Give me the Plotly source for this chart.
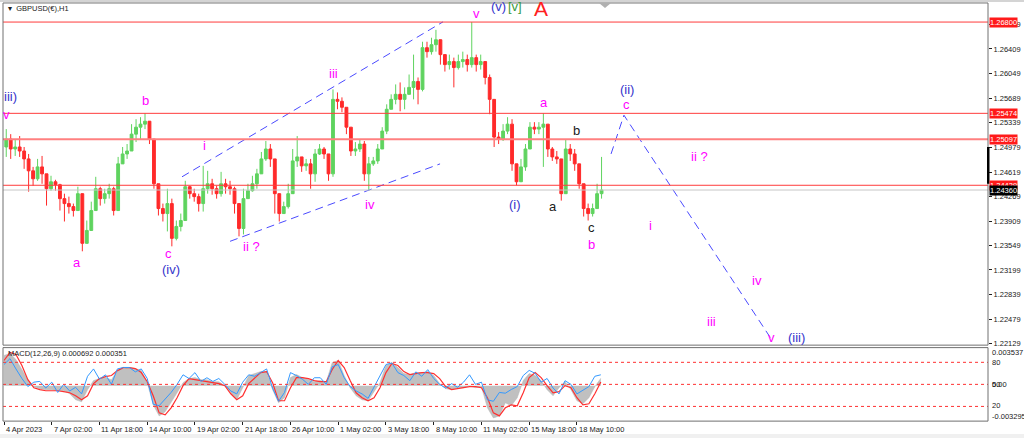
import plotly.graph_objects as go

W, H = 1024, 441


def fx(px):
    return px / W


def fy(py):
    return 1 - py / H


# ---- price data (H1 bars grouped by 6) ----
first_open = 1.24985
closes = [
    1.25100, 1.24956, 1.24985, 1.24927, 1.24812, 1.24639, 1.24523, 1.24696, 1.24595, 1.24379,
    1.24480, 1.24437, 1.24235, 1.24163, 1.24119, 1.24062, 1.24307, 1.23586, 1.23773, 1.24062,
    1.24379, 1.24235, 1.24307, 1.24379, 1.24062, 1.24740, 1.24884, 1.24927, 1.25172, 1.25273,
    1.25317, 1.25360, 1.25100, 1.24451, 1.24091, 1.24018, 1.24163, 1.23658, 1.23831, 1.23917,
    1.24408, 1.24307, 1.24264, 1.24163, 1.24379, 1.24451, 1.24379, 1.24307, 1.24451, 1.24408,
    1.24379, 1.24163, 1.23802, 1.24235, 1.24350, 1.24451, 1.24595, 1.24812, 1.24956, 1.24812,
    1.24307, 1.24018, 1.24119, 1.24307, 1.24783, 1.24841, 1.24711, 1.24740, 1.24595, 1.24884,
    1.24956, 1.24884, 1.24595, 1.25677, 1.25649, 1.25562, 1.25273, 1.24927, 1.24956, 1.25028,
    1.24595, 1.24740, 1.24783, 1.24956, 1.25216, 1.25533, 1.25677, 1.25750, 1.25677, 1.25750,
    1.25851, 1.25937, 1.25822, 1.26428, 1.26370, 1.26471, 1.26543, 1.26327, 1.26182, 1.26226,
    1.26139, 1.26226, 1.26255, 1.26182, 1.26283, 1.26182, 1.26226, 1.25995, 1.25677, 1.25129,
    1.25100, 1.25216, 1.25317, 1.24740, 1.24480, 1.24696, 1.24956, 1.25273, 1.25245, 1.25273,
    1.25317, 1.24956, 1.24841, 1.24812, 1.24307, 1.24956, 1.24884, 1.24740, 1.24451, 1.24091,
    1.24018, 1.24091, 1.24307, 1.24360]
highs = [
    1.25245, 1.25172, 1.25100, 1.25144, 1.24985, 1.24884, 1.24696, 1.24812, 1.24855, 1.24595,
    1.24567, 1.24509, 1.24451, 1.24307, 1.24264, 1.24163, 1.24408, 1.24235, 1.23917, 1.24191,
    1.24552, 1.24408, 1.24379, 1.24451, 1.24408, 1.24841, 1.24985, 1.25028, 1.25317, 1.25389,
    1.25418, 1.25474, 1.25273, 1.25100, 1.24451, 1.24163, 1.24379, 1.24235, 1.23917, 1.24018,
    1.24494, 1.24422, 1.24379, 1.24307, 1.24711, 1.24639, 1.24523, 1.24422, 1.24624, 1.24523,
    1.24494, 1.24408, 1.24163, 1.24379, 1.24451, 1.24567, 1.24668, 1.24913, 1.25072, 1.25028,
    1.24812, 1.24235, 1.24191, 1.24451, 1.24956, 1.25144, 1.24841, 1.24812, 1.24812, 1.24956,
    1.25028, 1.24985, 1.24884, 1.25822, 1.25778, 1.25706, 1.25562, 1.25273, 1.25057, 1.25100,
    1.25072, 1.24841, 1.24841, 1.25028, 1.25273, 1.25605, 1.25750, 1.25894, 1.25923, 1.25851,
    1.26038, 1.26327, 1.25995, 1.26514, 1.26514, 1.26572, 1.26687, 1.26471, 1.26327, 1.26327,
    1.26283, 1.26327, 1.26370, 1.26327, 1.26800, 1.26327, 1.26327, 1.26226, 1.26038, 1.25677,
    1.25201, 1.25317, 1.25418, 1.25389, 1.24668, 1.24812, 1.25028, 1.25346, 1.25346, 1.25346,
    1.25474, 1.25317, 1.24985, 1.24927, 1.24812, 1.25097, 1.25028, 1.24956, 1.24740, 1.24451,
    1.24163, 1.24163, 1.24451, 1.24841]
lows = [
    1.24841, 1.24812, 1.24855, 1.24841, 1.24668, 1.24336, 1.24422, 1.24494, 1.24451, 1.24134,
    1.24350, 1.24350, 1.24062, 1.23903, 1.24018, 1.23975, 1.24119, 1.23470, 1.23658, 1.23831,
    1.24163, 1.24134, 1.24163, 1.24235, 1.23990, 1.24062, 1.24783, 1.24812, 1.24956, 1.25057,
    1.25100, 1.25245, 1.25028, 1.24379, 1.23990, 1.23903, 1.23759, 1.23542, 1.23629, 1.23759,
    1.23917, 1.24235, 1.24191, 1.24047, 1.24047, 1.24307, 1.24292, 1.24235, 1.24264, 1.24307,
    1.24292, 1.24018, 1.23687, 1.23715, 1.24235, 1.24336, 1.24379, 1.24639, 1.24783, 1.24696,
    1.24018, 1.23903, 1.24047, 1.24091, 1.24595, 1.24696, 1.24624, 1.24639, 1.24379, 1.24480,
    1.24870, 1.24812, 1.24494, 1.24552, 1.25533, 1.25490, 1.25172, 1.24855, 1.24855, 1.24913,
    1.24494, 1.24350, 1.24711, 1.24740, 1.24956, 1.25172, 1.25533, 1.25605, 1.25504, 1.25533,
    1.25750, 1.25677, 1.25605, 1.25793, 1.26283, 1.26327, 1.26370, 1.26182, 1.26081, 1.26110,
    1.25851, 1.26110, 1.26139, 1.26081, 1.26139, 1.26081, 1.26110, 1.25894, 1.25461, 1.24985,
    1.25028, 1.25072, 1.25172, 1.24639, 1.24429, 1.24494, 1.24639, 1.24956, 1.25172, 1.25172,
    1.24696, 1.24841, 1.24783, 1.24740, 1.24206, 1.24307, 1.24783, 1.24639, 1.24379, 1.23975,
    1.23917, 1.23975, 1.24091, 1.24235]
opens = [first_open] + closes[:-1]
bar_x = [6 * k + 3 for k in range(len(closes))]

# ---- MACD window (sampled every 8 H1 bars) ----
macd_main = [
    0.00281, 0.00300, 0.00243, 0.00150, 0.00056, -0.00009, -0.00028, -0.00037, -0.00037, -0.00047,
    -0.00047, -0.00075, -0.00131, -0.00150, -0.00037, 0.00047, 0.00066, 0.00075, 0.00056, 0.00140,
    0.00159, 0.00168, 0.00159, 0.00140, 0.00028, -0.00178, -0.00281, -0.00243, -0.00159, -0.00066,
    0.00028, 0.00066, 0.00075, 0.00056, 0.00056, 0.00037, 0.00037, 0.00000, -0.00066, -0.00131,
    -0.00019, 0.00094, 0.00112, 0.00131, 0.00131, -0.00037, -0.00159, -0.00112, 0.00075, 0.00103,
    0.00075, 0.00056, 0.00037, 0.00047, 0.00037, 0.00215, 0.00234, 0.00094, -0.00019, -0.00094,
    -0.00131, -0.00140, -0.00056, 0.00028, 0.00187, 0.00215, 0.00168, 0.00112, 0.00103, 0.00122,
    0.00122, 0.00131, 0.00094, 0.00019, -0.00028, -0.00037, -0.00019, -0.00019, 0.00000, -0.00019,
    -0.00009, -0.00206, -0.00300, -0.00281, -0.00159, -0.00187, -0.00112, 0.00047, 0.00112, 0.00094,
    0.00047, -0.00037, -0.00094, -0.00019, 0.00037, -0.00037, -0.00140, -0.00168, -0.00112, -0.00009,
    0.00069]
macd_signal = [
    0.00234, 0.00309, 0.00290, 0.00187, 0.00056, -0.00019, -0.00037, -0.00047, -0.00047, -0.00047,
    -0.00056, -0.00066, -0.00094, -0.00131, -0.00094, 0.00019, 0.00066, 0.00084, 0.00094, 0.00140,
    0.00168, 0.00168, 0.00159, 0.00122, 0.00037, -0.00094, -0.00253, -0.00271, -0.00206, -0.00112,
    0.00000, 0.00066, 0.00056, 0.00047, 0.00037, 0.00028, 0.00019, 0.00000, -0.00075, -0.00131,
    -0.00094, 0.00019, 0.00075, 0.00122, 0.00131, 0.00028, -0.00140, -0.00140, -0.00019, 0.00075,
    0.00075, 0.00066, 0.00047, 0.00037, 0.00037, 0.00150, 0.00234, 0.00168, 0.00047, -0.00066,
    -0.00112, -0.00140, -0.00112, -0.00019, 0.00122, 0.00206, 0.00187, 0.00131, 0.00103, 0.00112,
    0.00122, 0.00122, 0.00112, 0.00066, -0.00009, -0.00037, -0.00028, -0.00019, -0.00009, -0.00009,
    -0.00019, -0.00112, -0.00253, -0.00281, -0.00206, -0.00178, -0.00187, -0.00066, 0.00075, 0.00122,
    0.00075, 0.00000, -0.00066, -0.00056, 0.00000, -0.00019, -0.00112, -0.00178, -0.00168, -0.00075,
    0.00035]
osc_line = [
    77, 85, 71, 58, 47, 53, 54, 45, 53, 39,
    50, 41, 46, 37, 61, 71, 57, 63, 50, 71,
    73, 73, 67, 71, 58, 23, 21, 30, 39, 50,
    63, 58, 66, 54, 59, 54, 58, 50, 41, 37,
    53, 63, 61, 66, 71, 45, 27, 39, 66, 62,
    57, 50, 59, 59, 50, 74, 77, 59, 47, 41,
    37, 31, 47, 61, 77, 79, 66, 62, 55, 67,
    61, 70, 58, 50, 45, 51, 46, 53, 63, 50,
    53, 29, 27, 39, 38, 43, 47, 62, 69, 65,
    53, 58, 45, 37, 55, 50, 37, 42, 47, 61,
    63]
macd_x = [8 * j for j in range(len(macd_main))]
osc_levels = [80, 50, 20]

# ---- axes ----
price_ticks = [1.26759, 1.26409, 1.26049, 1.25689, 1.25339, 1.24979, 1.24619,
               1.24269, 1.23909, 1.23549, 1.23199, 1.22839, 1.22479, 1.22129]
date_ticks = [64 * n for n in range(13)]
date_labels = ["4 Apr 2023", "7 Apr 02:00", "11 Apr 18:00", "14 Apr 10:00", "19 Apr 02:00",
               "21 Apr 18:00", "26 Apr 10:00", "1 May 02:00", "3 May 18:00", "8 May 10:00",
               "11 May 02:00", "15 May 18:00", "18 May 10:00"]
level_lines = [1.26800, 1.25474, 1.25097, 1.24429]
bid_price = 1.24360

# ---- wave markup ----
MAG = "#ff00ff"
BLU = "#3434cc"
BLK = "#202020"
waves = [
    ("iii)", 9, 1.25721, BLU), ("v", 4, 1.25461, MAG), ("a", 98, 1.23312, MAG),
    ("b", 189, 1.25663, MAG), ("c", 220, 1.23441, MAG), ("(iv)", 224, 1.23211, BLU),
    ("i", 269, 1.25000, MAG), ("ii ?", 332, 1.23543, MAG), ("iii", 442, 1.26053, MAG),
    ("iv", 491, 1.24148, MAG), ("v", 634, 1.26918, MAG), ("(i)", 685, 1.24148, BLU),
    ("a", 724, 1.25634, MAG), ("b", 767, 1.25230, BLK), ("a", 736, 1.24120, BLK),
    ("c", 787, 1.23817, BLK), ("b", 788, 1.23571, MAG), ("(ii)", 835, 1.25822, BLU),
    ("c", 834, 1.25605, MAG), ("ii ?", 932, 1.24841, MAG), ("i", 867, 1.23845, MAG),
    ("iv", 1009, 1.23052, MAG), ("iii", 948, 1.22446, MAG), ("v", 1029, 1.22215, MAG),
    ("(iii)", 1062, 1.22215, BLU),
]
channel_top = ([238.6, 588.5], [1.24552, 1.26803])
channel_bottom = ([303, 584.5], [1.23615, 1.24740])
projection = ([813.7, 831, 1030.8], [1.24884, 1.25447, 1.22158])

FONT = "Liberation Sans, Arial, sans-serif"
GREEN = "#5fd35f"
RED = "#ff2a2a"

fig = go.Figure()
fig.add_trace(go.Candlestick(
    x=bar_x, open=opens, high=highs, low=lows, close=closes,
    increasing=dict(line=dict(color=GREEN, width=1), fillcolor=GREEN),
    decreasing=dict(line=dict(color=RED, width=1), fillcolor=RED),
    hoverinfo="skip", showlegend=False))

for xs, ys in (channel_top, channel_bottom, projection):
    fig.add_trace(go.Scatter(x=xs, y=ys, mode="lines", showlegend=False, hoverinfo="skip",
                             line=dict(color="#4a4aff", width=1, dash="8px,5px")))

fig.add_trace(go.Scatter(x=macd_x, y=macd_main, xaxis="x2", yaxis="y2", mode="lines",
                         fill="tozeroy", fillcolor="#c0c0c0",
                         line=dict(color="#b8b8b8", width=0.5), showlegend=False))
fig.add_trace(go.Scatter(x=macd_x, y=macd_signal, xaxis="x2", yaxis="y2", mode="lines",
                         line=dict(color="#ff3030", width=1.2), showlegend=False))
fig.add_trace(go.Scatter(x=macd_x, y=osc_line, xaxis="x2", yaxis="y3", mode="lines",
                         line=dict(color="#3399ff", width=1), showlegend=False))

shapes = []
for p in level_lines:
    wide = p == 1.25097
    shapes.append(dict(type="line", xref="paper", yref="y", x0=fx(3), x1=fx(988), y0=p, y1=p,
                       line=dict(color="#ff8080" if wide else "#ff3b3b", width=2 if wide else 1)))
shapes.append(dict(type="line", xref="paper", yref="y", x0=fx(3), x1=fx(988),
                   y0=bid_price, y1=bid_price, line=dict(color="#c8c8c8", width=1)))
for lv in osc_levels:
    shapes.append(dict(type="line", xref="paper", yref="y3", x0=fx(3), x1=fx(988), y0=lv, y1=lv,
                       line=dict(color="#ff3030", width=1, dash="3px,3px")))
# pane frames and window chrome
shapes.append(dict(type="rect", xref="paper", yref="paper", x0=fx(3), x1=fx(988),
                   y0=fy(347.5), y1=fy(3), line=dict(color="#707070", width=1)))
shapes.append(dict(type="rect", xref="paper", yref="paper", x0=fx(3), x1=fx(988),
                   y0=fy(424), y1=fy(350), line=dict(color="#707070", width=1)))
shapes.append(dict(type="rect", xref="paper", yref="paper", x0=0, x1=1, y0=fy(2), y1=1,
                   line=dict(width=0), fillcolor="#d4d4d4"))
shapes.append(dict(type="rect", xref="paper", yref="paper", x0=0, x1=1, y0=0, y1=fy(437),
                   line=dict(width=0), fillcolor="#f0f0f0"))
shapes.append(dict(type="rect", xref="paper", yref="paper", x0=fx(987), x1=fx(989.5),
                   y0=fy(185), y1=fy(148), line=dict(width=0), fillcolor="#000000"))
shapes.append(dict(type="path", xref="paper", yref="paper",
                   path=f"M {fx(599)},{fy(3)} L {fx(611)},{fy(3)} L {fx(605)},{fy(8)} Z",
                   line=dict(width=0), fillcolor="#b0b0b0"))


def note(text, x, y, color=BLK, size=7.5, xanchor="left", xref="paper", yref="paper", **kw):
    return dict(x=x, y=y, xref=xref, yref=yref, text=text, showarrow=False,
                xanchor=xanchor, yanchor="middle",
                font=dict(family=FONT, size=size, color=color), **kw)


ann = []
for text, xi, yp, col in waves:
    ann.append(note(text, xi, yp, col, 13, "center", "x", "y"))
ann.append(note("(v)", fx(489), fy(7), BLU, 13))
ann.append(note("[v]", fx(506), fy(7), "#3a9a3a", 13))
ann.append(note("A", fx(532), fy(9), "#ff2020", 21))

for p in level_lines:
    ann.append(note(f"{p:.5f}", fx(989), p, "white", yref="y", bgcolor="#ff1a1a", borderpad=0))
ann.append(note(f"{bid_price:.5f}", fx(989), bid_price, "white", yref="y",
                bgcolor="#000000", borderpad=0))

for t, lab in zip(date_ticks, date_labels):
    ann.append(note(lab, t, fy(432), xref="x2"))

for lab, py in (("0.003537", 355), ("80", 365), ("0.00", 387.5), ("50", 387.5),
                ("20", 408), ("-0.003295", 419)):
    ann.append(note(lab, fx(990), fy(py)))

ann.append(note("MACD(12,26,9) 0.000692 0.000351", fx(6), fy(356)))
ann.append(note("▾  GBPUSD(€),H1", fx(6), fy(9)))

x_range = [-1.34, 1319]
fig.update_layout(
    width=W, height=H, margin=dict(l=0, r=0, t=0, b=0),
    paper_bgcolor="white", plot_bgcolor="white", showlegend=False,
    font=dict(family=FONT, size=8, color=BLK),
    boxgap=0.1,
    xaxis=dict(domain=[fx(3), fx(988)], range=x_range, anchor="y", showticklabels=False,
               showgrid=False, zeroline=False, ticks="", rangeslider=dict(visible=False)),
    xaxis2=dict(domain=[fx(3), fx(988)], range=x_range, anchor="y2", tickvals=date_ticks,
                ticks="outside", ticklen=3, tickcolor=BLK, showticklabels=False,
                showgrid=False, zeroline=False),
    yaxis=dict(domain=[fy(347.5), fy(3)], range=[1.22107, 1.27077], anchor="x", side="right",
               tickvals=price_ticks, ticktext=[f"{v:.5f}" for v in price_ticks],
               ticks="outside", ticklen=3, tickcolor=BLK,
               tickfont=dict(family=FONT, size=7.5, color=BLK),
               showgrid=False, zeroline=False),
    yaxis2=dict(domain=[fy(424), fy(350)], range=[-0.003295, 0.003537], anchor="x2",
                showticklabels=False, showgrid=False, zeroline=False, ticks=""),
    yaxis3=dict(overlaying="y2", anchor="x2", range=[0, 100], visible=False),
    shapes=shapes, annotations=ann,
)

# page body has a default 8px margin; drop it so the figure sits at the window corner
fig.write_html("out.html", config={"displayModeBar": False},
               post_script="document.body.style.margin='0';"
                           "document.body.style.overflow='hidden';")
